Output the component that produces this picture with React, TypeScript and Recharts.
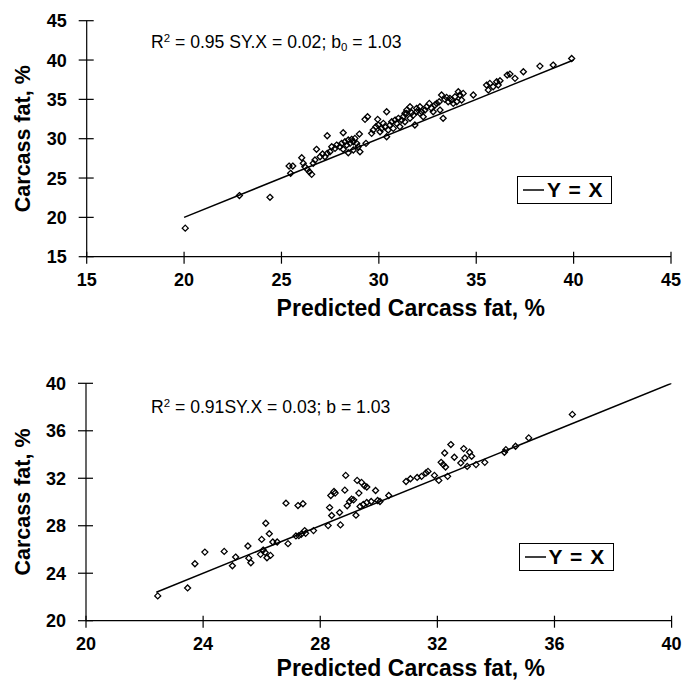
import React from 'react';
import { ScatterChart, Scatter, XAxis, YAxis, Legend } from 'recharts';

const FONT = '"Liberation Sans", Arial, Helvetica, sans-serif';

// ---------- Top panel data ----------
const topTicks = [15, 20, 25, 30, 35, 40, 45];
const topPredicted = [
  20.06, 22.84, 24.41, 25.39, 25.58, 25.47, 26.04, 26.12, 26.2, 26.33, 26.43, 26.55, 26.72, 26.63, 26.8,
  26.98, 27.11, 27.23, 27.35, 27.49, 27.35, 27.58, 27.75, 27.83, 28.0, 28.09, 28.17, 28.26, 28.35, 28.43,
  28.52, 28.6, 28.69, 28.77, 28.86, 28.94, 29.03, 28.43, 28.69, 28.17, 29.0, 29.29, 29.42, 29.34, 29.63,
  29.71, 29.85, 29.97, 30.06, 30.14, 30.23, 30.31, 30.4, 30.48, 30.57, 30.66, 30.74, 30.83, 30.91, 31.0,
  31.08, 31.17, 31.25, 31.34, 31.43, 31.6, 31.77, 31.85, 31.94, 32.11, 32.28, 30.4, 29.94, 31.34, 31.43,
  31.6, 31.68, 31.94, 32.11, 32.2, 32.37, 32.45, 32.59, 32.71, 32.79, 32.88, 32.97, 33.1, 33.14, 33.22,
  33.3, 33.39, 33.48, 33.56, 33.65, 33.74, 33.82, 33.91, 34.0, 34.08, 34.16, 34.25, 34.33, 34.85, 35.53,
  35.62, 35.7, 35.87, 36.05, 36.13, 36.22, 36.59, 36.73, 36.99, 37.42, 38.27, 38.95, 39.9,
];
const topActual = [
  18.63, 22.77, 22.55, 26.52, 26.52, 25.6, 27.58, 26.87, 26.44, 26.1, 25.8, 25.47, 27.29, 26.87, 28.65,
  27.71, 28.05, 27.7, 28.14, 28.34, 30.37, 28.98, 28.77, 29.19, 28.98, 29.41, 28.65, 29.61, 29.19, 29.83,
  29.41, 29.92, 29.61, 30.04, 29.41, 28.98, 28.34, 28.21, 28.56, 30.76, 30.59, 32.46, 32.79, 29.41, 30.68,
  31.1, 31.52, 31.74, 30.88, 31.31, 31.95, 31.52, 30.25, 31.1, 31.74, 32.15, 31.31, 32.37, 31.95, 32.59,
  31.52, 32.37, 32.79, 32.15, 33.22, 32.59, 33.0, 31.74, 33.43, 33.22, 32.79, 33.43, 32.46, 33.22, 33.64,
  34.06, 33.3, 33.86, 34.06, 33.43, 33.64, 34.06, 34.49, 33.86, 33.43, 34.28, 34.49, 34.7, 33.64, 35.55,
  32.59, 35.0, 35.25, 34.7, 35.13, 34.91, 34.49, 35.33, 34.7, 35.97, 35.55, 34.91, 35.76, 35.55, 36.82,
  36.18, 37.03, 36.6, 37.24, 36.82, 37.37, 38.09, 38.21, 37.67, 38.51, 39.23, 39.36, 40.2,
];
const topLineX = [20, 40];
const topLineY = [20, 40];

// ---------- Bottom panel data ----------
const bottomTicks = [20, 24, 28, 32, 36, 40];
const bottomPredicted = [
  22.45, 23.47, 23.72, 24.06, 24.72, 25.0, 25.11, 25.53, 25.56, 25.63, 25.96, 26.0, 26.05, 26.12, 26.14,
  26.18, 26.26, 26.3, 26.38, 26.53, 26.83, 26.9, 27.17, 27.27, 27.35, 27.47, 27.5, 27.24, 27.41, 27.77,
  28.27, 28.32, 28.36, 28.39, 28.47, 28.51, 28.66, 28.69, 28.84, 28.87, 28.92, 29.0, 29.07, 29.14, 29.22,
  29.26, 29.32, 29.41, 29.51, 29.59, 29.36, 29.47, 29.59, 29.74, 29.89, 29.96, 30.04, 30.34, 30.93, 31.08,
  31.31, 31.46, 31.61, 31.68, 31.9, 32.05, 32.13, 32.2, 32.28, 32.25, 32.46, 32.58, 32.35, 32.8, 32.9,
  32.94, 33.02, 33.1, 33.17, 33.32, 33.62, 34.29, 34.34, 34.67, 35.12, 36.61,
];
const bottomActual = [
  22.09, 22.76, 24.8, 25.78, 25.84, 24.63, 25.36, 26.29, 25.27, 24.88, 25.59, 26.85, 25.95, 25.75, 28.21,
  25.3, 27.33, 25.5, 26.63, 26.63, 29.9, 26.49, 27.14, 27.17, 27.28, 27.59, 27.36, 29.7, 29.85, 27.59,
  28.01, 29.53, 30.55, 28.86, 30.89, 30.75, 29.11, 28.07, 31.0, 32.24, 29.68, 30.04, 30.24, 30.18, 28.89,
  31.82, 30.75, 31.65, 31.37, 31.26, 29.62, 29.79, 29.96, 30.04, 30.97, 30.13, 30.04, 30.55, 31.73, 31.96,
  32.07, 32.16, 32.44, 32.58, 32.24, 31.82, 33.34, 33.15, 32.95, 34.13, 34.84, 33.77, 32.16, 33.29, 34.5,
  33.71, 33.0, 34.19, 33.85, 33.15, 33.34, 34.19, 34.41, 34.7, 35.4, 37.38,
];
const bottomLineX = [22.4, 40];
const bottomLineY = [22.4, 40];

const zip = (xs: number[], ys: number[]) => xs.map((x, i) => ({ x, y: ys[i] }));

const Diamond = (props: any) => {
  const { cx, cy } = props;
  if (cx == null || cy == null) return <g />;
  const r = 3;
  return (
    <path
      d={`M${cx},${cy - r}L${cx + r},${cy}L${cx},${cy + r}L${cx - r},${cy}Z`}
      fill="none"
      stroke="#000"
      strokeWidth={1.3}
    />
  );
};

const NoShape = () => <g />;

const XTick = (props: any) => {
  const { x, y, payload } = props;
  return (
    <g>
      <line x1={x} x2={x} y1={y - 5} y2={y + 7} stroke="#000" strokeWidth={1.2} />
      <text x={x} y={y + 29} textAnchor="middle" fontSize={18} fontWeight="bold" fontFamily={FONT} fill="#000">
        {payload.value}
      </text>
    </g>
  );
};

const YTick = (props: any) => {
  const { x, y, payload } = props;
  return (
    <g>
      <line x1={x - 8} x2={x + 7} y1={y} y2={y} stroke="#000" strokeWidth={1.2} />
      <text x={x - 20} y={y + 6.5} textAnchor="end" fontSize={18} fontWeight="bold" fontFamily={FONT} fill="#000">
        {payload.value}
      </text>
    </g>
  );
};

const LegendBox = (props: any) => {
  const item = (props.payload || []).find((p: any) => p.value === 'Y = X');
  const label = item ? item.value : 'Y = X';
  return (
    <div
      style={{
        boxSizing: 'border-box',
        width: 95,
        height: 28,
        border: '1.5px solid #000',
        background: '#fff',
        display: 'flex',
        alignItems: 'center',
        paddingLeft: 5,
      }}
    >
      <svg width={21} height={4} style={{ display: 'block' }}>
        <line x1={0} x2={21} y1={2} y2={2} stroke="#000" strokeWidth={1.5} />
      </svg>
      <span
        style={{
          marginLeft: 3,
          fontFamily: FONT,
          fontWeight: 'bold',
          fontSize: 21,
          letterSpacing: 1,
          lineHeight: '24px',
          whiteSpace: 'pre',
          color: '#000',
        }}
      >
        {label}
      </span>
    </div>
  );
};

type PanelProps = {
  top: number;
  height: number;
  marginTop: number;
  yAxisWidth: number;
  rightMargin: number;
  xAxisHeight: number;
  domain: [number, number];
  ticks: number[];
  points: { x: number; y: number }[];
  line: { x: number; y: number }[];
  legendLeft: number;
  legendTop: number;
  titleOffset: number;
};

const Panel = (p: PanelProps) => (
  <div style={{ position: 'absolute', left: 0, top: p.top }}>
    <ScatterChart
      width={682}
      height={p.height}
      margin={{ top: p.marginTop, right: p.rightMargin, bottom: 0, left: 0 }}
    >
      <XAxis
        type="number"
        dataKey="x"
        domain={p.domain}
        ticks={p.ticks}
        interval={0}
        allowDataOverflow
        height={p.xAxisHeight}
        tickSize={0}
        tickMargin={0}
        tickLine={false}
        axisLine={{ stroke: '#000', strokeWidth: 1.2 }}
        tick={(tp: any) => <XTick {...tp} />}
        label={{
          value: 'Predicted Carcass fat, %',
          position: 'insideBottom',
          offset: p.titleOffset,
          dx: 32,
          style: { fontFamily: FONT, fontWeight: 'bold', fontSize: 23, fill: '#000' },
        }}
      />
      <YAxis
        type="number"
        dataKey="y"
        domain={p.domain}
        ticks={p.ticks}
        interval={0}
        allowDataOverflow
        width={p.yAxisWidth}
        tickSize={0}
        tickMargin={0}
        tickLine={false}
        axisLine={{ stroke: '#000', strokeWidth: 1.2 }}
        tick={(tp: any) => <YTick {...tp} />}
        label={{
          value: 'Carcass fat, %',
          angle: -90,
          position: 'insideLeft',
          offset: 22,
          style: { fontFamily: FONT, fontWeight: 'bold', fontSize: 21.5, fill: '#000', textAnchor: 'middle' },
        }}
      />
      <Scatter name="data" data={p.points} shape={<Diamond />} legendType="none" isAnimationActive={false} />
      <Scatter
        name="Y = X"
        data={p.line}
        line={{ stroke: '#000', strokeWidth: 1.5 }}
        shape={<NoShape />}
        legendType="line"
        isAnimationActive={false}
      />
      <Legend
        layout="vertical"
        align="center"
        verticalAlign="middle"
        wrapperStyle={{ left: p.legendLeft, top: p.legendTop, width: 95, height: 28 }}
        content={(lp: any) => <LegendBox {...lp} />}
      />
    </ScatterChart>
  </div>
);

const noteStyle: React.CSSProperties = {
  position: 'absolute',
  left: 151,
  fontFamily: FONT,
  fontSize: 17.6,
  lineHeight: '20px',
  whiteSpace: 'nowrap',
  color: '#000',
};
const supStyle: React.CSSProperties = { fontSize: '0.65em', verticalAlign: '0.55em', lineHeight: 0 };
const subStyle: React.CSSProperties = { fontSize: '0.65em', verticalAlign: '-0.25em', lineHeight: 0 };

export default function App() {
  return (
    <div
      style={{
        position: 'absolute',
        left: 0,
        top: 0,
        width: 682,
        height: 687,
        background: '#fff',
        overflow: 'hidden',
      }}
    >
      <Panel
        top={0}
        height={330}
        marginTop={20.7}
        yAxisWidth={86.7}
        rightMargin={11}
        xAxisHeight={73.3}
        domain={[15, 45]}
        ticks={topTicks}
        points={zip(topPredicted, topActual)}
        line={zip(topLineX, topLineY)}
        legendLeft={517}
        legendTop={176}
        titleOffset={14}
      />
      <Panel
        top={330}
        height={357}
        marginTop={53.3}
        yAxisWidth={86}
        rightMargin={10.4}
        xAxisHeight={66.3}
        domain={[20, 40]}
        ticks={bottomTicks}
        points={zip(bottomPredicted, bottomActual)}
        line={zip(bottomLineX, bottomLineY)}
        legendLeft={518.6}
        legendTop={212.7}
        titleOffset={11}
      />
      <div style={{ ...noteStyle, top: 31.7 }}>
        R<span style={supStyle}>2</span> = 0.95 SY.X = 0.02; b<span style={subStyle}>0</span> = 1.03
      </div>
      <div style={{ ...noteStyle, top: 396.7 }}>
        R<span style={supStyle}>2</span> = 0.91SY.X = 0.03; b = 1.03
      </div>
    </div>
  );
}
